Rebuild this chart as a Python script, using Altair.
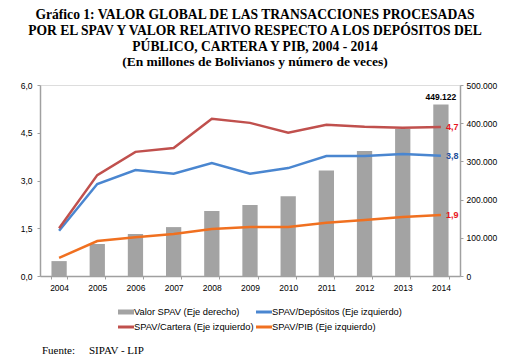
import altair as alt
import pandas as pd

years = ["2004", "2005", "2006", "2007", "2008", "2009", "2010", "2011", "2012", "2013", "2014"]
valor_spav = [39000, 84000, 110000, 128000, 170000, 186000, 209000, 276000, 327000, 385000, 449122]
spav_depositos = [1.42, 2.89, 3.33, 3.21, 3.55, 3.21, 3.39, 3.77, 3.77, 3.83, 3.78]
spav_cartera = [1.50, 3.17, 3.90, 4.02, 4.94, 4.81, 4.50, 4.75, 4.69, 4.66, 4.68]
spav_pib = [0.57, 1.10, 1.22, 1.32, 1.48, 1.54, 1.54, 1.67, 1.76, 1.85, 1.92]

series_names = ["SPAV/Depósitos (Eje izquierdo)", "SPAV/Cartera (Eje izquierdo)", "SPAV/PIB (Eje izquierdo)"]
series_colors = ["#4A86D0", "#C0504D", "#F07020"]
end_labels = ["3,8", "4,7", "1,9"]
end_label_colors = ["#1F4E99", "#E8141C", "#E8141C"]

title_lines = [
    "Gráfico 1: VALOR GLOBAL DE LAS TRANSACCIONES PROCESADAS",
    "POR EL SPAV Y VALOR RELATIVO RESPECTO A LOS DEPÓSITOS DEL",
    "PÚBLICO, CARTERA Y PIB, 2004 - 2014",
]
subtitle = "(En millones de Bolivianos y número de veces)"

bars_df = pd.DataFrame({"year": years, "valor": valor_spav})
rows = []
for name, vals in zip(series_names, [spav_depositos, spav_cartera, spav_pib]):
    for y, v in zip(years, vals):
        rows.append({"year": y, "serie": name, "v": v})
lines_df = pd.DataFrame(rows)
end_df = pd.DataFrame({
    "year": [years[-1]] * 3,
    "serie": series_names,
    "v": [spav_depositos[-1], spav_cartera[-1], spav_pib[-1]],
    "lab": end_labels,
    "col": end_label_colors,
})
bar_end_df = pd.DataFrame({"year": [years[-1]], "valor": [valor_spav[-1]]})

AX = "#a0a0a0"
FONT = "Liberation Sans"
SERIF = "Liberation Serif"

xenc = alt.X("year:N", title=None, sort=years,
             scale=alt.Scale(paddingInner=0.6, paddingOuter=0.3),
             axis=alt.Axis(labelAngle=0, tickBand="extent", domainColor=AX, domainWidth=1.5,
                           tickColor=AX, tickSize=3, labelFont=FONT, labelFontSize=8.5,
                           labelColor="#000", labelPadding=4))

y_right = alt.Y("valor:Q", title=None, scale=alt.Scale(domain=[0, 500000]),
                axis=alt.Axis(orient="right", values=[0, 100000, 200000, 300000, 400000, 500000],
                              labelExpr="replace(format(datum.value, ','), ',', '.')",
                              labelOverlap=False,
                              domainColor=AX, domainWidth=1.5, tickColor=AX, tickSize=3,
                              labelFont=FONT, labelFontSize=8.5, labelColor="#000", labelPadding=3,
                              grid=False))
y_left = alt.Y("v:Q", title=None, scale=alt.Scale(domain=[0, 6]),
               axis=alt.Axis(orient="left", values=[0, 1.5, 3, 4.5, 6],
                             labelExpr="replace(format(datum.value, '.1f'), '.', ',')",
                             labelOverlap=False,
                             domainColor=AX, domainWidth=1.5, tickColor=AX, tickSize=3,
                             labelFont=FONT, labelFontSize=8.5, labelColor="#000", labelPadding=5,
                             grid=False))

bars = alt.Chart(bars_df).mark_bar(color="#a3a3a3").encode(x=xenc, y=y_right)
bar_label = alt.Chart(bar_end_df).transform_calculate(
    t="replace(format(datum.valor, ','), ',', '.')"
).mark_text(
    dy=-7, font=FONT, fontSize=8.5, fontWeight="bold", color="#000"
).encode(x=xenc, y=y_right, text="t:N")
right = alt.layer(bars, bar_label)

lines = alt.Chart(lines_df).mark_line(strokeWidth=2.5).encode(
    x=xenc,
    y=y_left,
    color=alt.Color("serie:N", scale=alt.Scale(domain=series_names, range=series_colors), legend=None),
)
line_labels = alt.Chart(end_df).mark_text(
    align="left", dx=5, font=FONT, fontSize=9, fontWeight="bold"
).encode(
    x=xenc,
    y=y_left,
    text="lab:N",
    color=alt.Color("col:N", scale=None),
)
left = alt.layer(lines, line_labels)

main = alt.layer(right, left).resolve_scale(y="independent", color="independent")

one = pd.DataFrame({"a": [0]})
title_layers = []
for i, t in enumerate(title_lines):
    title_layers.append(alt.Chart(one).mark_text(
        font=SERIF, fontSize=13.6, fontWeight="bold", color="#000", baseline="middle"
    ).encode(x=alt.value(215), y=alt.value(-70 + 16 * i), text=alt.value(t)))
title_layers.append(alt.Chart(one).mark_text(
    font=SERIF, fontSize=13.5, fontWeight="bold", color="#000", baseline="middle"
).encode(x=alt.value(215), y=alt.value(-23), text=alt.value(subtitle)))

# legend
leg = []
leg_items = [("Valor SPAV (Eje derecho)", "#a3a3a3", 78, 227, "bar"),
             (series_names[0], series_colors[0], 216, 227, "line"),
             (series_names[1], series_colors[1], 78, 242, "line"),
             (series_names[2], series_colors[2], 216, 242, "line")]
for name, col, lx, ly, kind in leg_items:
    if kind == "bar":
        leg.append(alt.Chart(one).mark_rect(color=col).encode(
            x=alt.value(lx), x2=alt.value(lx + 16), y=alt.value(ly - 2.5), y2=alt.value(ly + 2.5)))
    else:
        leg.append(alt.Chart(one).mark_rule(color=col, strokeWidth=3).encode(
            x=alt.value(lx), x2=alt.value(lx + 16), y=alt.value(ly)))
    leg.append(alt.Chart(one).mark_text(
        align="left", baseline="middle", font=FONT, fontSize=9.3, color="#000"
    ).encode(x=alt.value(lx + 16), y=alt.value(ly), text=alt.value(name)))

fuente = [
    alt.Chart(one).mark_text(align="left", baseline="middle", font=SERIF, fontSize=11, color="#000")
    .encode(x=alt.value(2), y=alt.value(266), text=alt.value("Fuente:")),
    alt.Chart(one).mark_text(align="left", baseline="middle", font=SERIF, fontSize=11, color="#000")
    .encode(x=alt.value(49), y=alt.value(266), text=alt.value("SIPAV - LIP")),
]

chart = alt.layer(main, *title_layers, *leg, *fuente).properties(
    width=420, height=191,
    autosize=alt.AutoSizeParams(type="none"),
    padding={"left": 32, "top": 77, "right": 40, "bottom": 85},
).configure_view(stroke=None).configure(background="white")

chart.save("out.html", embed_options={"renderer": "svg", "actions": False})
